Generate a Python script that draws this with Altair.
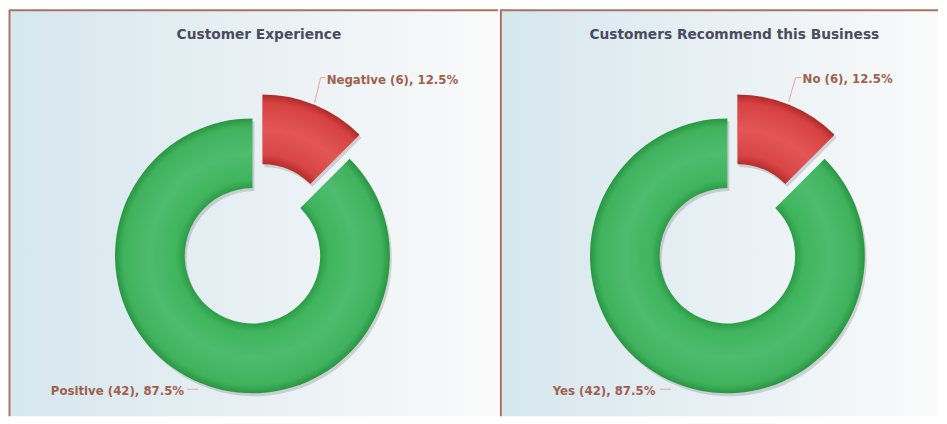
import math
import altair as alt
import pandas as pd

# ---- data ----
titles = ["Customer Experience", "Customers Recommend this Business"]
cats_left = ["Negative", "Positive"]
counts_left = [6, 42]
cats_right = ["No", "Yes"]
counts_right = [6, 42]


def table(cats, counts):
    total = sum(counts)
    rows, start = [], 0
    for c, n in zip(cats, counts):
        rows.append({"cat": c, "count": n, "start": start / total,
                     "end": (start + n) / total,
                     "label": f"{c} ({n}), {100 * n / total:.1f}%"})
        start += n
    return pd.DataFrame(rows)


# ---- style ----
R, r = 138, 68
H = 408
FONT = "DejaVu Sans"
BORDER = "#a87565"
LEADER = "#e7a3a3"
LBL = "#a0604c"

green_grad = alt.RadialGradient(
    gradient="radial", x1=0.5, y1=0.5, r1=r / (2 * R), x2=0.5, y2=0.5, r2=0.5,
    stops=[alt.GradientStop(color="#2c9c46", offset=0),
           alt.GradientStop(color="#3fb45d", offset=0.12),
           alt.GradientStop(color="#4dbc6e", offset=0.5),
           alt.GradientStop(color="#40b25e", offset=0.88),
           alt.GradientStop(color="#299641", offset=1)])

# red slice bbox (0..45 deg) -> radial gradient coords in pattern unit square
_w = R * math.sin(math.pi / 4)
_ytop, _ybot = -R, -r * math.cos(math.pi / 4)
_h = _ybot - _ytop
_s = max(_w, _h)
_sq_top = (_ytop + _ybot) / 2 - _s / 2
_cy = (0 - _sq_top) / _s
red_grad = alt.RadialGradient(
    gradient="radial", x1=0, y1=_cy, r1=r / _s, x2=0, y2=_cy, r2=R / _s,
    stops=[alt.GradientStop(color="#b82c2c", offset=0),
           alt.GradientStop(color="#d84646", offset=0.14),
           alt.GradientStop(color="#e35656", offset=0.5),
           alt.GradientStop(color="#d64242", offset=0.88),
           alt.GradientStop(color="#b02828", offset=1)])

bg_grad = alt.LinearGradient(
    gradient="linear", x1=0, y1=0, x2=1, y2=0,
    stops=[alt.GradientStop(color="#d6e7ee", offset=0),
           alt.GradientStop(color="#e6eff3", offset=0.45),
           alt.GradientStop(color="#fafafa", offset=1)])

one = pd.DataFrame({"k": [0]})
theta_scale = alt.Scale(domain=[0, 1], range=[0, 2 * math.pi])


def seg(x1, y1, x2, y2, color, w=1):
    return alt.Chart(one).mark_rule(color=color, strokeWidth=w).encode(
        x=alt.value(x1), y=alt.value(y1), x2=alt.value(x2), y2=alt.value(y2))


def panel(title, cats, counts, W, cx, cy, title_x, small_txt, small_leader,
          big_txt, big_leader, left_border):
    df = table(cats, counts)
    dx, dy = 10, -24
    enc = dict(theta=alt.Theta("start:Q", scale=theta_scale),
               theta2=alt.Theta2("end:Q"),
               x=alt.value(cx), y=alt.value(cy))
    small = alt.Chart(df).transform_filter(alt.datum.cat == cats[0])
    big = alt.Chart(df).transform_filter(alt.datum.cat == cats[1])

    layers = [
        alt.Chart(one).mark_rect(fill=bg_grad).encode(
            x=alt.value(0), x2=alt.value(W), y=alt.value(0), y2=alt.value(H)),
        big.mark_arc(radius=R, radius2=r, fill="#000", opacity=0.14,
                     xOffset=2, yOffset=3).encode(**enc),
        small.mark_arc(radius=R, radius2=r, fill="#000", opacity=0.14,
                       xOffset=dx + 2, yOffset=dy + 3).encode(**enc),
        big.mark_arc(radius=R, radius2=r, fill=green_grad).encode(**enc),
        small.mark_arc(radius=R, radius2=r, fill=red_grad,
                       xOffset=dx, yOffset=dy).encode(**enc),
        alt.Chart(one).mark_text(font=FONT, fontSize=13.8, fontWeight="bold",
                                 color="#4b4b5e", align="center",
                                 baseline="middle").encode(
            x=alt.value(title_x), y=alt.value(25), text=alt.value(title)),
        small.mark_text(font=FONT, fontSize=11.8, fontWeight="bold", color=LBL,
                        align="left", baseline="middle").encode(
            x=alt.value(small_txt[0]), y=alt.value(small_txt[1]), text="label:N"),
        big.mark_text(font=FONT, fontSize=11.8, fontWeight="bold", color=LBL,
                      align="left", baseline="middle").encode(
            x=alt.value(big_txt[0]), y=alt.value(big_txt[1]), text="label:N"),
    ]
    pts = small_leader
    for i in range(len(pts) - 1):
        layers.append(seg(pts[i][0], pts[i][1], pts[i + 1][0], pts[i + 1][1], LEADER))
    layers.append(seg(big_leader[0][0], big_leader[0][1],
                      big_leader[1][0], big_leader[1][1], LEADER))
    # borders
    layers.append(seg(0, 0.5, W, 0.5, BORDER, 2))
    layers.append(seg(left_border, 0, left_border, H, BORDER, 2))
    return alt.layer(*layers).properties(width=W, height=H)


p1 = panel(titles[0], cats_left, counts_left, 491, 244.5, 247, 251,
           (319, 70), [(307, 93), (313, 68), (318, 68)],
           (42, 382.5), [(179, 381), (190, 381)], 0.5)
p2 = panel(titles[1], cats_right, counts_right, 440, 228.5, 247, 235.5,
           (304, 69), [(290, 92), (297, 68), (303, 68)],
           (53, 382.5), [(161, 381), (172, 381)], 1)

chart = alt.hconcat(p1, p2, spacing=0).properties(
    padding=0, background="white").configure_view(stroke=None)

chart.save("out.html", embed_options={"renderer": "svg", "actions": False})
